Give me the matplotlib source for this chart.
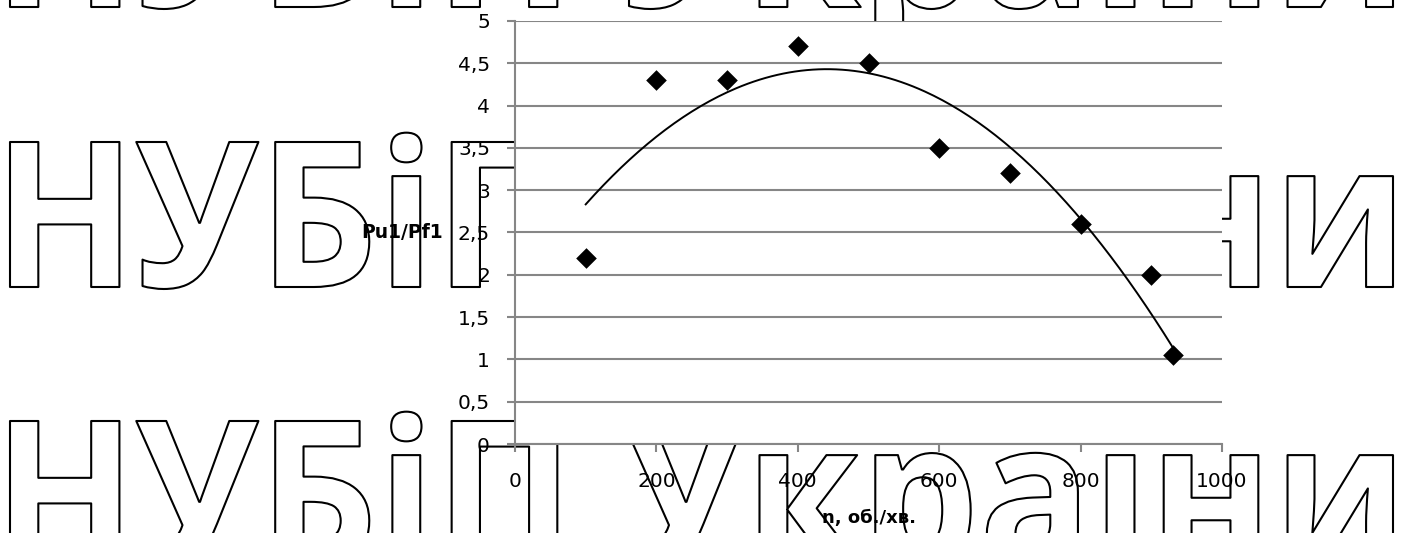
import numpy as np
import matplotlib
matplotlib.use("Agg")
import matplotlib.pyplot as plt
from matplotlib.textpath import TextPath
from matplotlib.font_manager import FontProperties
from matplotlib.patches import PathPatch
from matplotlib.transforms import Affine2D

# data
n_rpm = [100, 200, 300, 400, 500, 600, 700, 800, 900, 930]
ratio = [2.2, 4.3, 4.3, 4.7, 4.5, 3.5, 3.2, 2.6, 2.0, 1.05]

x_ticks = [0, 200, 400, 600, 800, 1000]
y_ticks = [0, 0.5, 1, 1.5, 2, 2.5, 3, 3.5, 4, 4.5, 5]
y_tick_labels = ["0", "0,5", "1", "1,5", "2", "2,5", "3", "3,5", "4", "4,5", "5"]

watermark = "НУБіП України"

W, H = 1407, 533
fig = plt.figure(figsize=(W / 100, H / 100), dpi=100)
fig.patch.set_facecolor("white")

# watermark layer in pixel coordinates
wm = fig.add_axes([0, 0, 1, 1], zorder=0)
wm.set_xlim(0, W)
wm.set_ylim(H, 0)
wm.axis("off")

fp = FontProperties(family="Open Sans", weight="bold")
tp = TextPath((0, 0), watermark, size=1, prop=fp)
ext = tp.get_extents()
cap_h = TextPath((0, 0), "Н", size=1, prop=fp).get_extents().height
sx = (1393 - 10) / ext.width
sy = 145 / cap_h
for base in [7, 287, 566]:
    tr = Affine2D().translate(-ext.x0, 0).scale(sx, -sy).translate(10, base)
    wm.add_patch(PathPatch(tr.transform_path(tp), facecolor="white",
                           edgecolor="black", lw=1.5, joinstyle="round"))

# chart
left, right = 515 / W, 1222 / W
bottom, top = (H - 444) / H, (H - 21) / H
ax = fig.add_axes([left, bottom, right - left, top - bottom], zorder=1)
ax.set_facecolor("white")

grey = "#868686"
ax.scatter(n_rpm, ratio, marker="D", s=10.5 ** 2, color="black", zorder=3,
           linewidths=0)

# polynomial (2nd order) trend line
coef = np.polyfit(n_rpm, ratio, 2)
xs = np.linspace(min(n_rpm), max(n_rpm), 200)
ax.plot(xs, np.polyval(coef, xs), color="black", lw=1.4, zorder=2)

ax.set_xlim(0, 1000)
ax.set_ylim(0, 5)
ax.set_xticks(x_ticks)
ax.set_xticklabels([str(v) for v in x_ticks])
ax.set_yticks(y_ticks)
ax.set_yticklabels(y_tick_labels)

ax.grid(axis="y", color=grey, lw=1.5)
ax.set_axisbelow(True)
for s in ["top", "right"]:
    ax.spines[s].set_visible(False)
for s in ["left", "bottom"]:
    ax.spines[s].set_color(grey)
    ax.spines[s].set_linewidth(1.5)

ax.tick_params(axis="both", direction="out", length=6, width=1.5, color=grey,
               labelsize=14.5, labelcolor="black")
ax.tick_params(axis="y", pad=12)
ax.tick_params(axis="x", pad=14)

ax.set_ylabel("Pu1/Pf1", rotation=0, fontsize=13.5, fontweight="bold",
              ha="right", va="center")
ax.yaxis.set_label_coords(-0.102, 0.5)
ax.set_xlabel("n, об./хв.", fontsize=13, fontweight="bold", va="center")
ax.xaxis.set_label_coords(0.5, -0.175)

fig.savefig("out.png", dpi=100, facecolor="white")
